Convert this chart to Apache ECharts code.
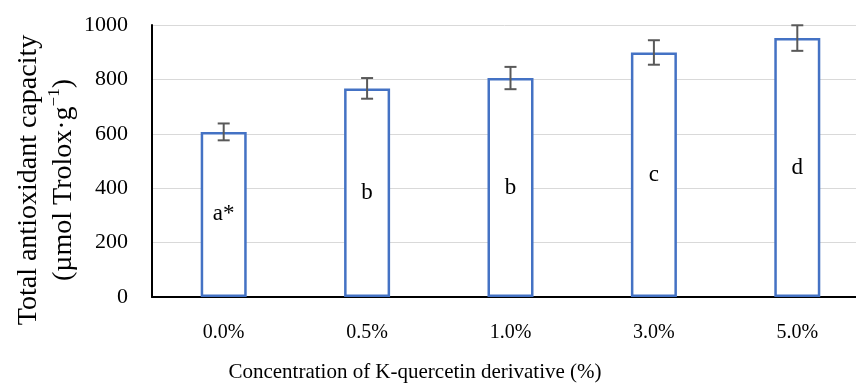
<!DOCTYPE html>
<html><head><meta charset="utf-8">
<script src="https://cdn.jsdelivr.net/npm/echarts@6/dist/echarts.min.js"></script>
<style>html,body{margin:0;padding:0;background:#fff}#c{width:856px;height:383px}</style>
</head><body><div id="c"></div>
<script>
const categories = ['0.0%', '0.5%', '1.0%', '3.0%', '5.0%'];
const values = [607, 767, 805, 899, 952];
const errors = [31, 38, 41, 45, 47];
const letters = ['a*', 'b', 'b', 'c', 'd'];
const yTicks = [0, 200, 400, 600, 800, 1000];

const FONT = 'Liberation Serif';
const chart = echarts.init(document.getElementById('c'), null, {renderer: 'canvas'});
chart.setOption({
  animation: false,
  grid: {left: 152, top: 25, bottom: 86, right: -565, width: 717, containLabel: false, outerBoundsMode: 'none'},
  xAxis: {
    type: 'category', data: categories,
    axisLine: {lineStyle: {color: '#000', width: 2}},
    axisTick: {show: false},
    axisLabel: {color: '#000', fontFamily: FONT, fontSize: 20, margin: 26}
  },
  yAxis: {
    type: 'value', min: yTicks[0], max: yTicks[yTicks.length - 1], interval: 200,
    axisLine: {show: true, lineStyle: {color: '#000', width: 2}},
    axisTick: {show: false},
    splitLine: {lineStyle: {color: '#d9d9d9', width: 1}},
    axisLabel: {color: '#000', fontFamily: FONT, fontSize: 22, margin: 24, formatter: v => String(v)}
  },
  graphic: [
    {type: 'text', x: 415, y: 372, style: {text: 'Concentration of K-quercetin derivative (%)', fontFamily: FONT, fontSize: 21, fill: '#000', align: 'center', verticalAlign: 'middle'}},
    {type: 'text', x: 11, y: 180, rotation: Math.PI / 2,
      style: {
        text: 'Total antioxidant capacity\n(µmol Trolox·g{sup|−1})',
        fontFamily: FONT, fontSize: 28, fill: '#000', align: 'center', verticalAlign: 'top', lineHeight: 35,
        rich: {sup: {fontFamily: FONT, fontSize: 17, verticalAlign: 'top', lineHeight: 35, padding: [0, 0, 12, 0]}}
      }}
  ],
  series: [
    {
      type: 'bar', data: values, barWidth: 46,
      itemStyle: {color: '#fff', borderColor: '#4472C4', borderWidth: 2.5},
      label: {show: true, position: 'inside', formatter: p => letters[p.dataIndex], color: '#000', fontFamily: FONT, fontSize: 23}
    },
    {
      type: 'custom', z: 10,
      data: values.map((v, i) => [i, v - errors[i], v + errors[i]]),
      renderItem: function (params, api) {
        const x = api.value(0);
        const lo = api.coord([x, api.value(1)]);
        const hi = api.coord([x, api.value(2)]);
        const hw = 6;
        const st = {stroke: '#595959', lineWidth: 2};
        return {type: 'group', children: [
          {type: 'line', shape: {x1: lo[0], y1: lo[1], x2: hi[0], y2: hi[1]}, style: st},
          {type: 'line', shape: {x1: lo[0] - hw, y1: lo[1], x2: lo[0] + hw, y2: lo[1]}, style: st},
          {type: 'line', shape: {x1: hi[0] - hw, y1: hi[1], x2: hi[0] + hw, y2: hi[1]}, style: st}
        ]};
      }
    }
  ]
});
</script></body></html>
